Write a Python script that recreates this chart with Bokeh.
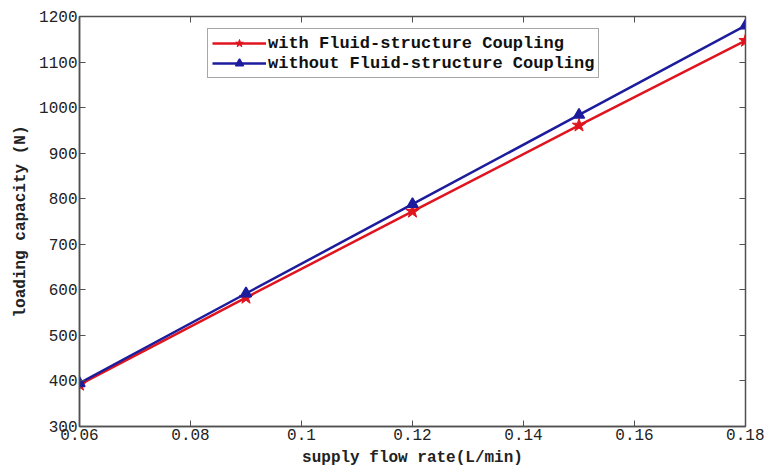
from bokeh.plotting import figure
from bokeh.models import LinearAxis, Range1d, FixedTicker, Legend, LegendItem
from bokeh.embed import file_html
from bokeh.resources import INLINE

flow_rate = [0.06, 0.09, 0.12, 0.15, 0.18]
with_fsc = [392, 583, 772, 961, 1147]
without_fsc = [395, 592, 788, 984, 1180]
x_ticks = [0.06, 0.08, 0.10, 0.12, 0.14, 0.16, 0.18]
x_tick_labels = ["0.06", "0.08", "0.1", "0.12", "0.14", "0.16", "0.18"]
y_ticks = [300, 400, 500, 600, 700, 800, 900, 1000, 1100, 1200]

RED = "#e0141e"
BLUE = "#1c1c9c"
AX = "#505050"
MONO = "Liberation Mono"

p = figure(width=764, height=476, output_backend="svg", toolbar_location=None,
           x_range=Range1d(0.06, 0.18), y_range=Range1d(300, 1200),
           min_border_left=79, min_border_right=19, min_border_top=16, min_border_bottom=50,
           x_axis_label="supply flow rate(L/min)", y_axis_label="loading capacity (N)")
p.grid.visible = False
p.outline_line_color = AX
p.outline_line_width = 1.5
p.background_fill_color = "white"
p.border_fill_color = "white"

p.xaxis.ticker = FixedTicker(ticks=x_ticks)
p.xaxis.major_label_overrides = {t: l for t, l in zip(x_ticks, x_tick_labels)}
p.yaxis.ticker = FixedTicker(ticks=y_ticks)

for ax in [p.xaxis[0], p.yaxis[0]]:
    ax.axis_line_color = AX
    ax.axis_line_width = 1.5
    ax.major_tick_in = 6
    ax.major_tick_out = 0
    ax.major_tick_line_color = AX
    ax.minor_tick_line_color = None
    ax.major_label_text_font = MONO
    ax.major_label_text_font_size = "16px"
    ax.major_label_text_color = "#222222"
    ax.major_label_standoff = 2
    ax.axis_label_text_font = MONO
    ax.axis_label_text_font_size = "16px"
    ax.axis_label_text_font_style = "bold"
    ax.axis_label_text_color = "#222222"
    ax.axis_label_standoff = 6

top = LinearAxis(ticker=FixedTicker(ticks=x_ticks),
                 major_label_overrides={t: "" for t in x_ticks},
                 major_tick_in=6, major_tick_out=0, axis_line_color=AX,
                 major_tick_line_color=AX, minor_tick_line_color=None)
right = LinearAxis(ticker=FixedTicker(ticks=y_ticks),
                   major_label_overrides={t: "" for t in y_ticks},
                   major_tick_in=6, major_tick_out=0, axis_line_color=AX,
                   major_tick_line_color=AX, minor_tick_line_color=None)
p.add_layout(top, "above")
p.add_layout(right, "right")

r1 = p.line(flow_rate, with_fsc, line_color=RED, line_width=2.5)
m1 = p.scatter(flow_rate, with_fsc, marker="star", size=14, fill_color=RED, line_color=RED)
r2 = p.line(flow_rate, without_fsc, line_color=BLUE, line_width=2.5)
m2 = p.scatter(flow_rate, without_fsc, marker="triangle", size=11, fill_color=BLUE, line_color=BLUE, line_width=1.5)

legend = Legend(items=[
    LegendItem(label="with Fluid-structure Coupling", renderers=[r1, m1]),
    LegendItem(label="without Fluid-structure Coupling", renderers=[r2, m2]),
], location=(128, 348))
legend.label_text_font = MONO
legend.label_text_font_size = "17px"
legend.label_text_font_style = "bold"
legend.label_text_color = "#111111"
legend.glyph_width = 54
legend.glyph_height = 20
legend.label_height = 20
legend.spacing = 0
legend.padding = 4
legend.margin = 0
legend.label_standoff = 2
legend.border_line_color = AX
legend.border_line_width = 1.5
legend.background_fill_alpha = 1
p.add_layout(legend, "center")

open("out.html", "w").write(file_html(p, INLINE))
